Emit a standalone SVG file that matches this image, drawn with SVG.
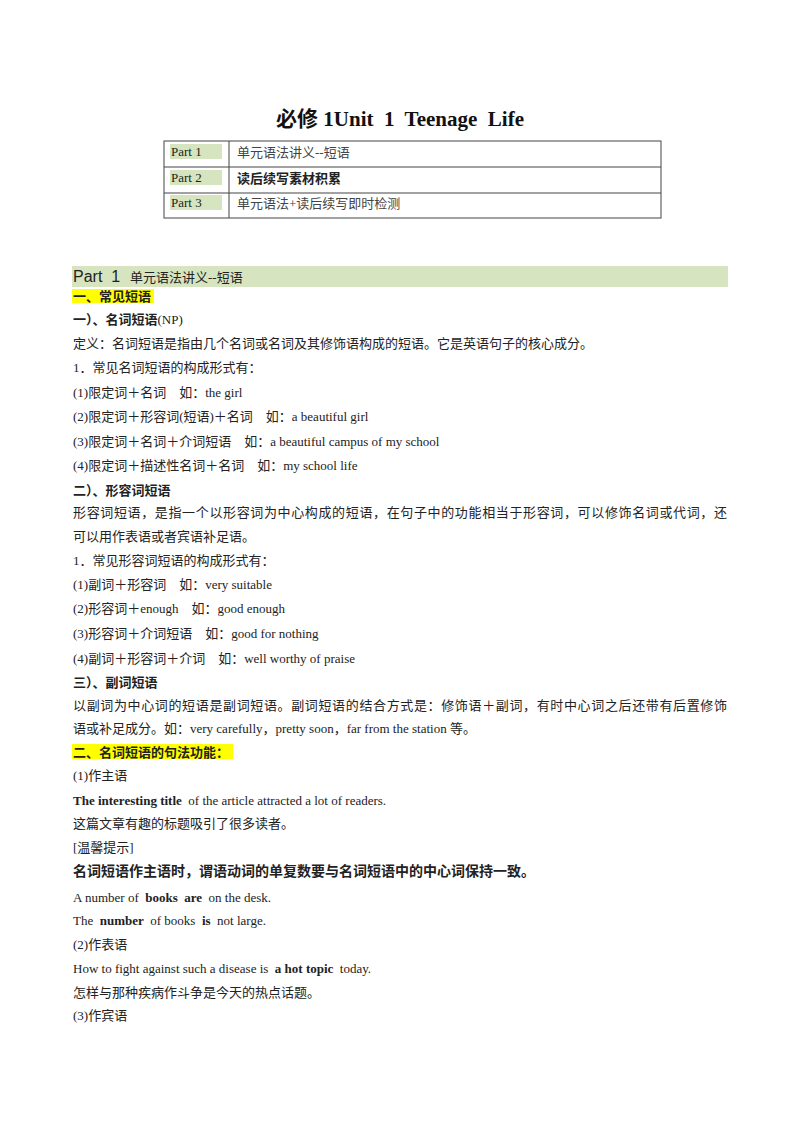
<svg xmlns="http://www.w3.org/2000/svg" width="800" height="1132" viewBox="0 0 800 1132">
<style>
text{font-family:"Liberation Serif","Noto Sans CJK SC",serif;font-size:13px;fill:#222;white-space:pre}
.b{font-weight:bold}
.s{font-family:"Liberation Sans","Noto Sans CJK SC",sans-serif}
</style>
<rect width="800" height="1132" fill="#fff"/>
<text x="400" y="126" text-anchor="middle" class="b" style="font-size:21px;fill:#111" xml:space="preserve">必修 1Unit  1  Teenage  Life</text>
<g id="table" fill="none" stroke="#444" stroke-width="1">
<rect x="164" y="141" width="497" height="77"/>
<line x1="164" y1="167" x2="661" y2="167"/>
<line x1="164" y1="193" x2="661" y2="193"/>
<line x1="229" y1="141" x2="229" y2="218"/>
</g>
<g fill="#d6e4bf">
<rect x="170" y="144" width="52" height="15"/>
<rect x="170" y="170" width="52" height="15"/>
<rect x="170" y="195" width="52" height="15"/>
</g>
<text x="171" y="156">Part 1</text>
<text x="171" y="182">Part 2</text>
<text x="171" y="207">Part 3</text>
<text x="237" y="157" style="fill:#444">单元语法讲义--短语</text>
<text x="237" y="183" class="b">读后续写素材积累</text>
<text x="237" y="208" style="fill:#444">单元语法+读后续写即时检测</text>
<rect x="72" y="266" width="656" height="21" fill="#d6e4bf"/>
<text x="73" y="282" class="s" style="font-size:16px" xml:space="preserve">Part  1</text>
<text x="130" y="282">单元语法讲义--短语</text>
<rect x="72" y="289" width="82" height="14" fill="#ffff00"/>
<text x="73" y="301" class="b">一、常见短语</text>
<text x="73" y="324" class="b">一）、名词短语<tspan font-weight="normal">(NP)</tspan></text>
<text x="73" y="348">定义：名词短语是指由几个名词或名词及其修饰语构成的短语。它是英语句子的核心成分。</text>
<text x="73" y="372">1．常见名词短语的构成形式有：</text>
<text x="73" y="397">(1)限定词＋名词　如：the girl</text>
<text x="73" y="421">(2)限定词＋形容词(短语)＋名词　如：a beautiful girl</text>
<text x="73" y="446">(3)限定词＋名词＋介词短语　如：a beautiful campus of my school</text>
<text x="73" y="470">(4)限定词＋描述性名词＋名词　如：my school life</text>
<text x="73" y="495" class="b">二）、形容词短语</text>
<text x="73" y="517" textLength="654" lengthAdjust="spacing">形容词短语，是指一个以形容词为中心构成的短语，在句子中的功能相当于形容词，可以修饰名词或代词，还</text>
<text x="73" y="541">可以用作表语或者宾语补足语。</text>
<text x="73" y="565">1．常见形容词短语的构成形式有：</text>
<text x="73" y="589">(1)副词＋形容词　如：very suitable</text>
<text x="73" y="613">(2)形容词＋enough　如：good enough</text>
<text x="73" y="638">(3)形容词＋介词短语　如：good for nothing</text>
<text x="73" y="663">(4)副词＋形容词＋介词　如：well worthy of praise</text>
<text x="73" y="687" class="b">三）、副词短语</text>
<text x="73" y="710" textLength="654" lengthAdjust="spacing">以副词为中心词的短语是副词短语。副词短语的结合方式是：修饰语＋副词，有时中心词之后还带有后置修饰</text>
<text x="73" y="733">语或补足成分。如：very carefully，pretty soon，far from the station 等。</text>
<rect x="72" y="744" width="161" height="15" fill="#ffff00"/>
<text x="73" y="757" class="b">二、名词短语的句法功能：</text>
<text x="73" y="780">(1)作主语</text>
<text x="73" y="805" xml:space="preserve"><tspan class="b">The interesting title</tspan>  of the article attracted a lot of readers.</text>
<text x="73" y="828">这篇文章有趣的标题吸引了很多读者。</text>
<text x="73" y="852">[温馨提示]</text>
<text x="73" y="876" class="s b" style="font-size:14px">名词短语作主语时，谓语动词的单复数要与名词短语中的中心词保持一致。</text>
<text x="73" y="902" xml:space="preserve">A number of  <tspan class="b">books  are</tspan>  on the desk.</text>
<text x="73" y="925" xml:space="preserve">The  <tspan class="b">number</tspan>  of books  <tspan class="b">is</tspan>  not large.</text>
<text x="73" y="949">(2)作表语</text>
<text x="73" y="973" xml:space="preserve">How to fight against such a disease is  <tspan class="b">a hot topic</tspan>  today.</text>
<text x="73" y="997">怎样与那种疾病作斗争是今天的热点话题。</text>
<text x="73" y="1020">(3)作宾语</text>
</svg>
